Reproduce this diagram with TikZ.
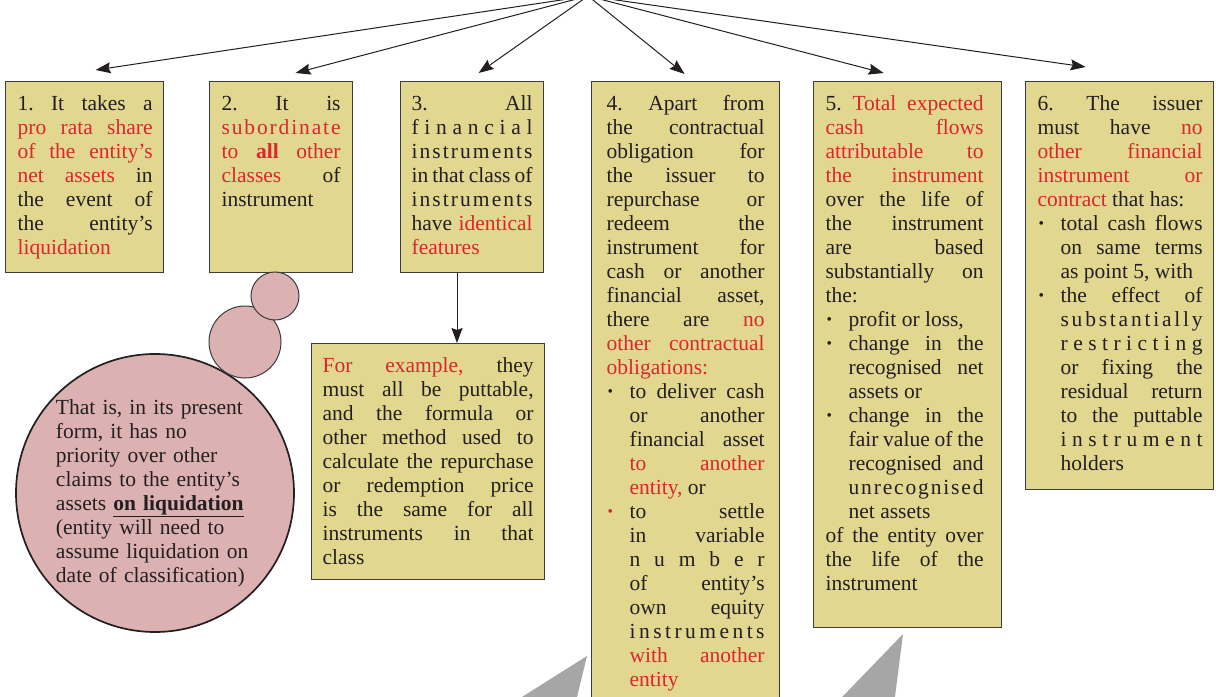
\documentclass[tikz,border=0pt]{standalone}
\usepackage{fontspec}
\setmainfont{Liberation Serif}
\usetikzlibrary{arrows.meta,calc}
\definecolor{boxfill}{HTML}{E1D78F}
\definecolor{boxline}{HTML}{3C3C3C}
\definecolor{txtred}{HTML}{D7282F}
\definecolor{pinkfill}{HTML}{DCB1B1}
\definecolor{callgrey}{HTML}{A6A6A6}
\definecolor{ink}{HTML}{231F20}
\frenchspacing
\newdimen\tw \newdimen\pl \newdimen\bi
\bi=23bp
\newcommand\R[1]{\textcolor{txtred}{#1}}
\newcommand\bul{\raisebox{2.2bp}{\scalebox{0.72}{\textbullet}}}
\newcommand\J[1]{\hbox to\hsize{\hskip\pl\hbox to\tw{#1}\hss}}
\newcommand\E[1]{\hbox to\hsize{\hskip\pl #1\hss}}
\newcommand\B[2][ink]{\hbox to\hsize{\hskip\pl\hbox to\bi{\hskip1bp\textcolor{#1}{\bul}\hss}\hbox to\dimexpr\tw-\bi\relax{#2}\hss}}
\newcommand\BE[1]{\hbox to\hsize{\hskip\pl\hbox to\bi{\hskip1bp\bul\hss}#1\hss}}
\newcommand\I[1]{\hbox to\hsize{\hskip\pl\hskip\bi\hbox to\dimexpr\tw-\bi\relax{#1}\hss}}
\newcommand\IE[1]{\hbox to\hsize{\hskip\pl\hskip\bi #1\hss}}
\newcommand\topline{\hbox{}\kern5bp}
\makeatletter
\def\LS#1{\ls@a#1\@nil}
\def\ls@a#1#2\@nil{#1\ifx\relax#2\relax\else\hfil\ls@a#2\@nil\fi}
\makeatother
\tikzset{
  ybox/.style={draw=boxline, line width=1.2bp, fill=boxfill, inner sep=0pt,
    anchor=north west, text=ink, font=\fontsize{21.5bp}{24bp}\selectfont},
  pinkc/.style={circle, fill=pinkfill, draw=boxline, line width=1bp, inner sep=0pt},
  arr/.style={draw=ink, line width=1bp, -{Stealth[length=15bp,width=11bp,inset=2bp]}},
  callout/.style={fill=callgrey, draw=none}
}
\begin{document}
\begin{tikzpicture}[x=1bp,y=-1bp]
\useasboundingbox (0,0) rectangle (1216,697);
\clip (0,0) rectangle (1216,697);

% grey callout pointers
\fill[callout] (587,656) -- (485.5,720) -- (571.4,720) -- cycle;
\fill[callout] (903,634) -- (820,720) -- (892,720) -- cycle;

% boxes
\node[ybox] (b1) at (5,81) {\parbox[c][191bp][t]{158bp}{\pl=12bp\tw=135bp\topline
\J{1. It takes a}
\J{\R{pro rata share}}
\J{\R{of the entity’s}}
\J{\R{net assets} in}
\J{the event of}
\J{the entity’s}
\E{\R{liquidation}}}};

\node[ybox] (b2) at (209,81) {\parbox[c][191bp][t]{143bp}{\pl=12bp\tw=119bp\topline
\J{2. It is}
\J{\R{\LS{subordinate}}}
\J{\R{to \textbf{all} other}}
\J{\R{classes} of}
\E{instrument}}};

\node[ybox] (b3) at (400,81) {\parbox[c][191bp][t]{143bp}{\pl=11bp\tw=121bp\topline
\J{3. All}
\J{\LS{financial}}
\J{\LS{instruments}}
\J{in that class of}
\J{\LS{instruments}}
\J{have \R{identical}}
\E{\R{features}}}};

\node[ybox] (b3a) at (311,343) {\parbox[c][236bp][t]{233bp}{\pl=11bp\tw=211bp\topline
\J{\R{For example,} they}
\J{must all be puttable,}
\J{and the formula or}
\J{other method used to}
\J{calculate the repurchase}
\J{or redemption price}
\J{is the same for all}
\J{instruments in that}
\E{class}}};

\node[ybox] (b4) at (591,81) {\parbox[c][640bp][t]{188bp}{\pl=15bp\tw=158bp\topline
\J{4. Apart from}
\J{the contractual}
\J{obligation for}
\J{the issuer to}
\J{repurchase or}
\J{redeem the}
\J{instrument for}
\J{cash or another}
\J{financial asset,}
\J{there are \R{no}}
\J{\R{other contractual}}
\E{\R{obligations:}}
\B{to deliver cash}
\I{or another}
\I{financial asset}
\I{\R{to another}}
\IE{\R{entity,} or}
\B[txtred]{to settle}
\I{in variable}
\I{\LS{number}}
\I{of entity’s}
\I{own equity}
\I{\LS{instruments}}
\I{\R{with another}}
\IE{\R{entity}}}};

\node[ybox] (b5) at (813,81) {\parbox[c][546bp][t]{188bp}{\pl=12bp\tw=158bp\topline
\J{5. \R{Total expected}}
\J{\R{cash flows}}
\J{\R{attributable to}}
\J{\R{the instrument}}
\J{over the life of}
\J{the instrument}
\J{are based}
\J{substantially on}
\E{the:}
\BE{profit or loss,}
\B{change in the}
\I{recognised net}
\IE{assets or}
\B{change in the}
\I{fair value of the}
\I{recognised and}
\I{\LS{unrecognised}}
\IE{net assets}
\J{of the entity over}
\J{the life of the}
\E{instrument}}};

\node[ybox] (b6) at (1025,81) {\parbox[c][408bp][t]{188bp}{\pl=12bp\tw=165bp\topline
\J{6. The issuer}
\J{must have \R{no}}
\J{\R{other financial}}
\J{\R{instrument or}}
\E{\R{contract} that has:}
\B{total cash flows}
\I{on same terms}
\IE{as point 5, with}
\B{the effect of}
\I{\LS{substantially}}
\I{\LS{restricting}}
\I{or fixing the}
\I{residual return}
\I{to the puttable}
\I{\LS{instrument}}
\IE{holders}}};

% thought bubbles
\node[pinkc, minimum size=278bp, line width=1.7bp, draw=ink, text=ink,
  text width=198bp, align=left, font=\fontsize{21.5bp}{24bp}\selectfont] (c3) at (155,493)
  {That is, in its present\\ form, it has no\\ priority over other\\ claims to the entity's\\
   assets \underline{\textbf{on liquidation}}\\ (entity will need to\\ assume liquidation on\\ date of classification)};
\node[pinkc, minimum size=72bp] (c2) at (245,342) {};
\node[pinkc, minimum size=48bp] (c1) at (275,296) {};

% connectors
\coordinate (src) at (588,-4);
\draw[arr] (src) -- ($(b1.north)+(11,-11)$);
\draw[arr] (src) -- ($(b2.north)+(14.5,-8)$);
\draw[arr] (src) -- ($(b3.north)+(6.5,-8)$);
\draw[arr] (src) -- ($(b4.north)+(-1,-7)$);
\draw[arr] (src) -- ($(b5.north)+(-24,-8)$);
\draw[arr] (src) -- ($(b6.north)+(-34,-14)$);
\coordinate (x3) at (457,0);
\draw[arr] (b3.south -| x3) -- (b3a.north -| x3);
\end{tikzpicture}
\end{document}
